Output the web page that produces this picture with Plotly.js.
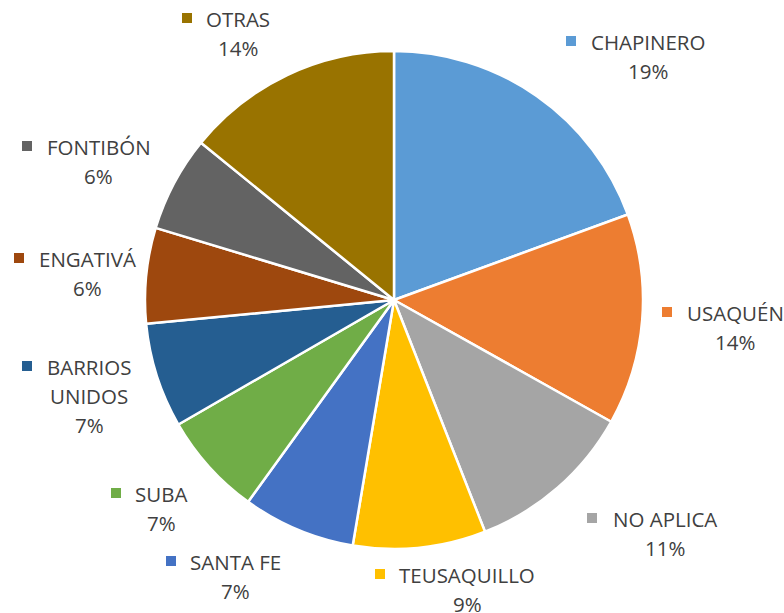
<!DOCTYPE html>
<html>
<head>
<meta charset="utf-8">
<script src="https://cdn.plot.ly/plotly-3.0.1.min.js"></script>
<style>
  body { margin: 0; background: #fff; }
</style>
</head>
<body>
<div id="chart" style="width:784px;height:613px;"></div>
<script>
// localidades, en orden de las manecillas del reloj desde arriba
var labels = ['CHAPINERO', 'USAQUÉN', 'NO APLICA', 'TEUSAQUILLO', 'SANTA FE',
              'SUBA', 'BARRIOS UNIDOS', 'ENGATIVÁ', 'FONTIBÓN', 'OTRAS'];
var values = [19.4, 13.7, 10.9, 8.6, 7.3, 6.7, 6.8, 6.2, 6.2, 14.1];
var colors = ['#5B9BD5', '#ED7D31', '#A5A5A5', '#FFC000', '#4472C4',
              '#70AD47', '#255E91', '#9E480E', '#636363', '#997300'];

// label placement in pixels: text centre x, first line y, square x
var labelLines = [['CHAPINERO'], ['USAQUÉN'], ['NO APLICA'], ['TEUSAQUILLO'], ['SANTA FE'],
                  ['SUBA'], ['BARRIOS', 'UNIDOS'], ['ENGATIVÁ'], ['FONTIBÓN'], ['OTRAS']];
var labelCx = [648, 735, 665, 467, 235, 161, 89, 87, 99, 238];
var labelY  = [42, 313, 519, 575, 562, 494, 367, 259, 147, 19];
var squareX = [571, 667, 592, 380, 171, 116, 27, 19, 27, 187];

var W = 784, H = 613;
var lineGap = 29;
function px(x) { return x / W; }
function py(y) { return 1 - y / H; }

var total = values.reduce(function (a, b) { return a + b; }, 0);

var annotations = [];
var shapes = [];
for (var i = 0; i < labels.length; i++) {
  var lines = labelLines[i].concat([Math.round(values[i] / total * 100) + '%']);
  for (var k = 0; k < lines.length; k++) {
    annotations.push({
      x: px(labelCx[i]), y: py(labelY[i] + k * lineGap),
      xref: 'paper', yref: 'paper',
      xanchor: 'center', yanchor: 'middle',
      text: lines[k], showarrow: false,
      font: {family: 'Open Sans, sans-serif', size: 20.5, color: '#404040'}
    });
  }
  shapes.push({
    type: 'rect', xref: 'paper', yref: 'paper',
    x0: px(squareX[i] - 5), x1: px(squareX[i] + 5),
    y0: py(labelY[i] - 6), y1: py(labelY[i] + 4),
    fillcolor: colors[i], line: {width: 0}
  });
}

var data = [{
  type: 'pie',
  labels: labels,
  values: values,
  sort: false,
  direction: 'clockwise',
  rotation: 0,
  textinfo: 'none',
  hoverinfo: 'label+percent',
  marker: {colors: colors, line: {color: '#ffffff', width: 2.5}},
  domain: {x: [px(145), px(643)], y: [py(549), py(51)]}
}];

var layout = {
  width: W,
  height: H,
  showlegend: false,
  margin: {l: 0, r: 0, t: 0, b: 0},
  paper_bgcolor: '#ffffff',
  annotations: annotations,
  shapes: shapes
};

Plotly.newPlot('chart', data, layout, {displayModeBar: false});
</script>
</body>
</html>
